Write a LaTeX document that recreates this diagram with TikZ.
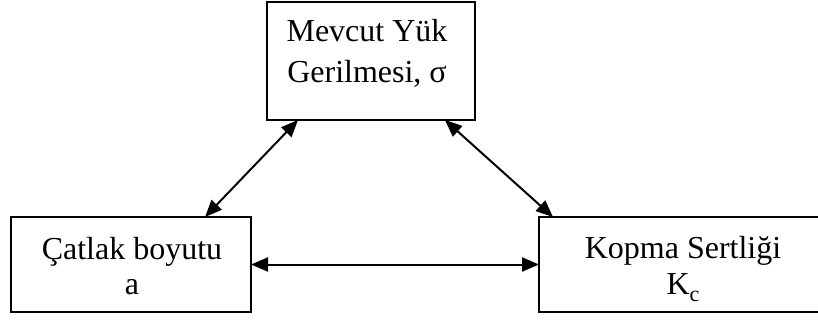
\documentclass[tikz,border=0pt]{standalone}
\usepackage{fontspec}
\setmainfont{Liberation Serif}
\usetikzlibrary{arrows.meta}
\begin{document}
\begin{tikzpicture}[x=1pt,y=-1pt,
  box/.style={draw,line width=2pt,inner sep=0pt,outer sep=0pt},
  txt/.style={anchor=base,inner sep=0pt,font=\fontsize{32}{38}\selectfont},
  tip/.tip={Triangle[length=17pt,width=14pt]},
  arr/.style={line width=2pt,tip-tip}]
\useasboundingbox (0,0) rectangle (818,322);
\clip (0,0) rectangle (818,322);
\node[box,minimum width=208pt,minimum height=118pt] (top) at (371,61) {};
\node[box,minimum width=240pt,minimum height=95pt] (left) at (131,264.5) {};
\node[box,minimum width=291pt,minimum height=95pt] (right) at (684.5,264.5) {};
\node[txt] (t1) at (367,41) {Mevcut Yük};
\node[txt] (t2) at (367,82.5) {Gerilmesi, σ};
\node[txt] (l1) at (132,259) {Çatlak boyutu};
\node[txt] (l2) at (132,294) {a};
\node[txt] (r1) at (683,258) {Kopma Sertliği};
\node[txt] (r2) at (683,294) {K\raisebox{-7pt}{\fontsize{22}{22}\selectfont c}};
\draw[arr] ([xshift=31pt]top.south west) -- ([xshift=194pt]left.north west);
\draw[arr] ([xshift=178pt]top.south west) -- ([xshift=14pt]right.north west);
\draw[arr] (left.east) -- (right.west);
\end{tikzpicture}
\end{document}
